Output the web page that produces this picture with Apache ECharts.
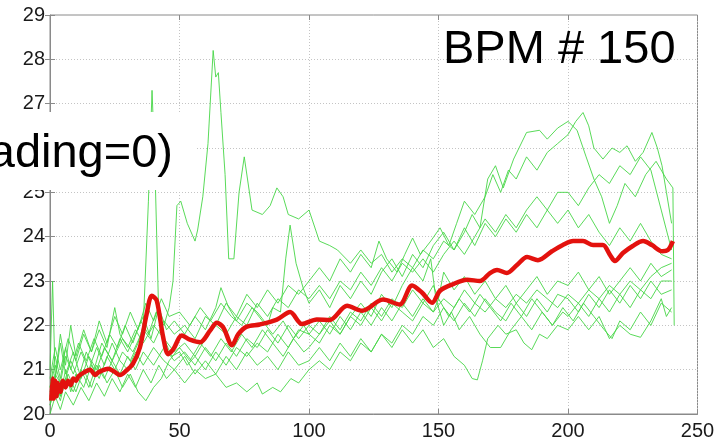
<!DOCTYPE html>
<html>
<head>
<meta charset="utf-8">
<script src="https://cdn.jsdelivr.net/npm/echarts@6/dist/echarts.min.js"></script>
<style>html,body{margin:0;padding:0;background:#fff}#c{width:728px;height:441px}</style>
</head>
<body>
<div id="c"></div>
<script>
var xTicks = [0, 50, 100, 150, 200, 250];
var yTicks = [20, 21, 22, 23, 24, 25, 26, 27, 28, 29];
var titleText = 'BPM # 150';
var boxText = 'ading=0)';

var trace1 = [[0,20.2],[2,20.7],[4,20.4],[6,21.0],[8,20.5],[10,20.9],[13,20.6],[16,21.1],[19,20.8],[22,21.3],[25,21.0],[28,21.4],[31,21.2],[34,21.6],[36,22.0],[38,24.8],[39.4,27.3],[40.5,25.6],[42,22.2],[44,21.7],[47,21.3],[50,21.4],[53,21.1],[56,21.3],[60,21.0],[64,21.4],[68,21.1],[72,21.5],[76,21.3],[80,21.6],[84,21.4],[88,21.8],[92,21.5],[96,21.9],[100,21.8],[104,21.6],[108,22.0],[112,21.8],[116,22.2],[120,22.0],[124,22.4],[128,22.1],[132,22.5],[136,22.3],[140,22.1],[144,22.5],[148,22.3],[152,22.6],[156,22.4],[160,22.8],[164,22.5],[168,22.3],[172,22.6],[176,22.4],[180,22.7],[184,22.5],[188,22.8],[192,22.6],[196,22.4],[200,22.7],[204,22.5],[208,22.8],[212,22.6],[216,22.9],[220,22.7],[224,23.0],[228,22.8],[232,23.1],[236,23.3],[240,23.4]];
var trace2 = [[0,20.6],[2,21.3],[4,20.8],[6,21.5],[8,21.0],[11,21.6],[14,21.2],[17,21.7],[20,21.3],[23,21.8],[26,21.5],[29,22.0],[32,21.6],[35,22.1],[38,21.8],[41,22.3],[44,22.0],[46,22.4],[47.5,23.0],[49,24.7],[50.5,24.8],[53,24.3],[56,23.9],[57,24.15],[59,24.9],[61,26.1],[63,28.2],[64,27.6],[65,27.7],[66,26.8],[67.6,25.4],[69,23.5],[71,23.5],[73,25.0],[75,25.8],[78,24.6],[82,24.5],[85,24.7],[87.6,25.1],[90,24.9],[92,24.5],[96,24.4],[100,24.6],[104,23.9],[108,23.8],[111,23.7],[116,23.4],[120,23.7],[124,23.4],[128,23.6],[132,23.2],[136,23.5],[140,23.3],[144,23.7],[148,23.5],[152,23.9],[156,23.7],[160,24.1],[163,24.5],[166,24.2],[169,25.3],[172,25.6],[175,25.1],[179,25.75],[184,26.35],[189,26.4],[192,26.2],[196,26.45],[200,26.6],[203.5,26.4],[207,25.8],[210,25.3],[213,24.9],[216,24.3],[219,24.7],[222,25.2],[226,24.9],[230,25.4],[234,25.7],[238,25.3],[240.5,25.1],[241,22.0]];
var trace3 = [[0,20.5],[2,20.9],[5,20.6],[8,21.2],[11,20.8],[14,21.4],[17,21.0],[20,21.6],[24,21.2],[28,21.7],[32,21.4],[36,21.9],[40,21.6],[44,22.1],[48,21.8],[52,22.0],[56,21.7],[60,22.2],[64,22.0],[68,22.5],[72,22.2],[76,22.7],[80,22.4],[84,22.8],[88,22.5],[92,22.9],[96,22.7],[100,23.0],[104,23.3],[108,23.0],[112,23.5],[116,23.2],[120,23.6],[124,23.3],[127,23.9],[130,23.5],[134,23.2],[137,23.6],[140,23.97],[143,23.6],[147,23.9],[150.6,24.2],[154,23.8],[157,24.3],[160,24.8],[164,24.5],[168,24.9],[171,25.4],[174,25.0],[177,25.5],[180,25.3],[184,25.8],[188,25.5],[192,25.9],[196,26.1],[200,26.3],[203,26.6],[205.8,26.8],[208,26.5],[210,26.0],[213.5,25.75],[217,26.0],[220,25.9],[222.8,26.05],[226,25.7],[229,25.9],[232.4,26.35],[234.5,26.0],[236.3,25.6],[238,25.0],[240,24.3]];
var trace4 = [[0,20.8],[2,21.5],[4,21.0],[7,21.7],[10,21.2],[13,21.8],[16,21.4],[19,21.9],[22,21.5],[25,22.4],[27,21.8],[30,21.5],[33,21.9],[36,21.6],[40,22.0],[44,21.7],[48,21.4],[52,21.6],[56,21.3],[60,21.7],[64,22.0],[68,21.8],[72,22.2],[76,22.0],[80,22.5],[84,22.2],[88,22.6],[92,22.4],[96,22.8],[100,22.6],[104,22.9],[108,22.6],[112,23.0],[116,22.8],[120,23.2],[124,22.9],[128,23.3],[132,23.0],[136,23.4],[140,23.2],[144,23.5],[148,23.2],[152,23.6],[156,23.9],[160,23.6],[164,24.0],[168,24.4],[172,24.1],[176,24.5],[180,24.2],[184,24.6],[188,24.9],[192,24.6],[196,25.0],[200,25.0],[204,24.7],[208,25.1],[212,25.4],[216,25.2],[220,25.6],[224,25.4],[228,25.8],[232,25.5],[236,24.6],[240,23.7]];
var trace5 = [[0,20.4],[2,20.8],[4,21.6],[6,20.9],[9,21.4],[12,20.8],[15,21.3],[18,21.0],[21,21.5],[24,21.2],[27,21.7],[30,21.4],[33,21.8],[36,22.2],[39,21.7],[42,22.4],[45,21.9],[48,22.1],[52,21.8],[56,22.2],[60,21.9],[64,22.4],[66,22.85],[69,22.4],[72,22.1],[76,22.5],[80,22.3],[84,22.0],[86,22.4],[89,22.3],[91,23.5],[92.7,24.26],[95,23.4],[97.7,22.85],[100,22.5],[104,22.8],[108,22.4],[112,22.9],[116,22.6],[120,23.0],[124,22.7],[128,23.2],[132,23.5],[136,23.1],[140,23.6],[144,23.3],[148,23.8],[152,24.1],[156,23.7],[160,24.2],[164,23.8],[168,24.3],[172,24.0],[176,24.4],[180,24.1],[184,24.5],[188,24.2],[192,24.6],[196,24.3],[200,24.6],[204,24.2],[208,24.5],[212,24.1],[216,23.8],[220,24.2],[224,23.9],[228,24.3],[232,23.9],[236,23.6],[240,23.5]];
var trace6 = [[0,20.2],[2,20.6],[4,20.3],[6,20.8],[9,20.5],[12,21.0],[15,20.6],[18,21.1],[21,20.8],[24,21.2],[27,20.9],[30,21.3],[33,21.0],[36,21.4],[40,21.1],[44,21.5],[48,21.2],[52,21.4],[56,21.1],[60,21.5],[64,21.2],[68,21.6],[72,21.3],[76,21.7],[80,21.5],[84,21.9],[88,21.6],[92,22.0],[96,21.7],[100,22.0],[104,21.8],[108,22.2],[112,21.9],[116,22.3],[120,22.1],[124,22.5],[128,22.2],[132,22.6],[136,22.4],[140,22.8],[144,22.5],[148,22.9],[150,22.6],[152,23.2],[156,22.8],[160,23.1],[164,22.7],[168,23.0],[172,22.6],[176,22.9],[180,22.5],[184,22.8],[188,23.1],[192,22.7],[196,23.0],[200,22.9],[204,23.2],[208,22.8],[212,23.1],[216,22.7],[220,23.0],[224,23.3],[228,23.0],[232,23.4],[236,23.1],[240,23.25]];
var trace7 = [[0,20.0],[2,20.4],[4,20.1],[6,20.5],[9,20.2],[12,20.6],[15,20.3],[18,20.7],[21,20.4],[24,20.8],[27,20.5],[30,20.9],[33,20.6],[36,21.0],[39,20.7],[42,21.1],[45,20.8],[48,21.0],[52,20.7],[56,21.0],[60,20.8],[64,20.9],[68,20.6],[72,20.7],[76,20.5],[80,20.7],[82,20.45],[86,20.6],[89,20.5],[93,20.8],[96,20.7],[100,21.0],[104,21.2],[108,21.0],[112,21.4],[116,21.2],[120,21.6],[124,21.4],[128,21.8],[132,21.6],[136,22.0],[140,21.8],[144,22.2],[148,22.0],[152,22.4],[156,22.1],[160,22.5],[164,22.2],[168,22.6],[172,22.3],[176,22.1],[180,22.5],[184,22.2],[188,22.6],[192,22.3],[196,22.7],[200,22.6],[204,22.3],[208,22.7],[212,22.4],[216,22.8],[220,22.5],[224,22.9],[228,22.6],[232,23.0],[236,22.7],[240,22.8]];
var trace8 = [[0,20.6],[2,21.1],[4,20.7],[6,21.3],[9,20.9],[12,21.4],[15,21.0],[18,21.5],[21,21.1],[24,21.6],[27,21.2],[30,21.0],[33,21.4],[36,21.1],[40,21.5],[44,21.2],[48,21.0],[52,21.3],[56,20.9],[60,21.2],[64,20.9],[68,21.3],[72,21.0],[76,21.4],[80,21.1],[84,21.3],[88,21.0],[92,21.4],[96,21.1],[100,21.2],[104,21.5],[108,21.2],[112,21.6],[116,21.3],[120,21.7],[124,21.4],[128,21.8],[132,21.5],[136,21.9],[140,21.6],[144,21.9],[148,21.5],[152,21.7],[156,21.3],[160,21.1],[163,20.8],[165,20.77],[167,21.2],[169,21.7],[173,22.0],[176,21.8],[180,21.9],[183,21.6],[186,21.45],[189,21.8],[192,21.7],[196,22.0],[200,21.9],[204,22.2],[208,21.9],[212,22.2],[216,21.7],[220,22.0],[224,21.8],[228,21.73],[232,22.1],[236,22.6],[238,22.2],[240,22.4]];
var trace9 = [[0,21.0],[1,23.0],[2,20.8],[4,21.8],[6,21.1],[8,22.0],[10,21.3],[13,21.9],[16,21.4],[19,22.1],[22,21.6],[25,22.2],[28,21.8],[31,22.3],[34,21.9],[37,22.5],[40,22.1],[43,22.6],[46,22.2],[50,22.3],[54,22.0],[58,22.4],[62,22.1],[66,22.5],[70,22.2],[74,22.0],[78,22.4],[82,22.1],[86,21.8],[90,22.1],[94,21.7],[98,22.0],[100,21.8],[104,22.1],[108,21.8],[112,22.2],[116,21.9],[120,22.3],[124,22.0],[128,22.4],[132,22.1],[136,22.5],[140,22.2],[144,22.6],[148,22.3],[150,22.6],[154,22.2],[158,22.6],[162,22.3],[166,22.7],[170,22.4],[174,22.1],[178,22.5],[182,22.2],[186,22.6],[190,22.3],[194,22.0],[198,22.3],[200,22.2],[204,22.5],[208,22.2],[212,22.6],[216,22.3],[220,22.7],[224,22.4],[228,22.8],[232,22.6],[236,23.0],[240,23.0]];
var trace10 = [[0,20.3],[2,20.7],[4,20.4],[7,20.9],[10,20.5],[13,21.0],[16,20.6],[19,21.1],[22,20.7],[25,21.0],[28,20.6],[31,20.9],[34,20.5],[37,20.3],[40,20.6],[43,20.8],[46,21.2],[50,21.5],[54,21.2],[58,21.6],[62,21.3],[66,21.7],[70,21.4],[74,21.8],[78,21.5],[82,21.9],[86,21.6],[90,21.3],[94,21.7],[98,21.4],[100,21.5],[104,21.8],[108,22.1],[112,21.8],[116,22.2],[120,22.5],[124,22.2],[128,22.7],[132,22.4],[136,22.9],[140,23.3],[144,23.0],[147,23.5],[149,22.6],[152,22.0],[155,22.3],[158,21.9],[162,22.2],[166,21.8],[170,21.5],[174,21.5],[178,21.9],[182,22.2],[186,21.9],[190,22.3],[194,22.0],[198,22.4],[202,22.1],[206,22.5],[210,22.2],[214,21.9],[217,21.7],[220,22.1],[224,21.9],[228,22.3],[232,22.0],[236,22.5],[240,22.3]];
var meanLine = [[0.5,20.3],[1,20.8],[1.5,20.35],[2,20.75],[2.5,20.4],[3,20.7],[4,20.5],[5,20.75],[6,20.6],[7,20.75],[8,20.65],[9,20.8],[10,20.75],[11,20.85],[13.5,20.95],[15.5,21.0],[17.4,20.88],[19,20.95],[22.5,21.02],[25,20.95],[27,20.88],[29.5,20.98],[32,21.13],[34.7,21.5],[37.3,22.25],[39.3,22.67],[41.2,22.56],[43.7,21.73],[45.6,21.35],[47.6,21.46],[50.9,21.77],[54,21.68],[58,21.62],[61.8,21.88],[64.4,22.06],[66.9,21.95],[70.3,21.55],[72.7,21.8],[76,21.97],[81,22.02],[87.6,22.13],[92.7,22.3],[97.3,22.03],[103,22.13],[108,22.12],[114.7,22.44],[120.5,22.33],[128.6,22.58],[135,22.47],[139.8,22.9],[143.6,22.74],[147.5,22.51],[150.6,22.78],[155.2,22.92],[161,23.03],[166,23.0],[169.9,23.18],[172.6,23.25],[176.4,23.18],[180.3,23.36],[184.2,23.54],[188.4,23.47],[193.8,23.67],[198,23.81],[202,23.9],[205.8,23.9],[209.7,23.81],[213.5,23.81],[216.2,23.59],[218.1,23.45],[221.2,23.63],[225,23.79],[229,23.9],[232.4,23.81],[236.3,23.67],[238.6,23.7],[240.5,23.9]];

var traces = [trace1, trace2, trace3, trace4, trace5, trace6, trace7, trace8, trace9, trace10];

var FONT = '"Liberation Sans", Arial, Helvetica, sans-serif';
var series = traces.map(function (t) {
  return {
    type: 'line', data: t, symbol: 'none', silent: true, z: 2,
    lineStyle: { color: '#47d647', width: 1, opacity: 0.9 }
  };
});
series.push({
  type: 'line', data: meanLine, symbol: 'none', silent: true, z: 5, smooth: 0.3,
  lineStyle: { color: '#e3120e', width: 4.5 }
});

var chart = echarts.init(document.getElementById('c'), null, { renderer: 'canvas' });
var gridLine = { show: true, lineStyle: { color: '#c4c4c4', type: [1, 2], width: 1 } };
chart.setOption({
  animation: false,
  backgroundColor: '#fff',
  grid: { left: 50, right: 30.5, top: 15, bottom: 24, show: true, borderColor: '#8a8a8a', borderWidth: 1, backgroundColor: 'transparent' },
  xAxis: [{
    type: 'value', min: xTicks[0], max: xTicks[xTicks.length - 1], interval: 50,
    axisLine: { show: true, lineStyle: { color: '#8a8a8a' } },
    axisTick: { show: true, inside: true, length: 5, lineStyle: { color: '#8a8a8a' } },
    splitLine: gridLine,
    axisLabel: { color: '#1a1a1a', fontSize: 20, fontFamily: FONT, margin: 7 }
  }, {
    type: 'value', position: 'top', min: xTicks[0], max: xTicks[xTicks.length - 1], interval: 50,
    axisLine: { show: false }, axisTick: { show: true, inside: true, length: 5, lineStyle: { color: '#8a8a8a' } },
    splitLine: { show: false }, axisLabel: { show: false }
  }],
  yAxis: [{
    type: 'value', min: yTicks[0], max: yTicks[yTicks.length - 1], interval: 1,
    axisLine: { show: true, lineStyle: { color: '#8a8a8a' } },
    axisTick: { show: true, inside: true, length: 5, lineStyle: { color: '#8a8a8a' } },
    splitLine: gridLine,
    axisLabel: { color: '#1a1a1a', fontSize: 20, fontFamily: FONT, margin: 5 }
  }, {
    type: 'value', position: 'right', min: yTicks[0], max: yTicks[yTicks.length - 1], interval: 1,
    axisLine: { show: false }, axisTick: { show: true, inside: true, length: 5, lineStyle: { color: '#8a8a8a' } },
    splitLine: { show: false }, axisLabel: { show: false }
  }],
  series: series,
  graphic: [
    { type: 'rect', z: 100, shape: { x: 0, y: 112, width: 197, height: 78 }, style: { fill: '#ffffff' } },
    { type: 'text', z: 101, x: 173, y: 154, style: { text: boxText, fill: '#000', font: '47px ' + FONT, textAlign: 'right', textVerticalAlign: 'middle' } },
    { type: 'text', z: 101, x: 443, y: 50, style: { text: titleText, fill: '#000', font: '47px ' + FONT, textAlign: 'left', textVerticalAlign: 'middle' } }
  ]
});
</script>
</body>
</html>
